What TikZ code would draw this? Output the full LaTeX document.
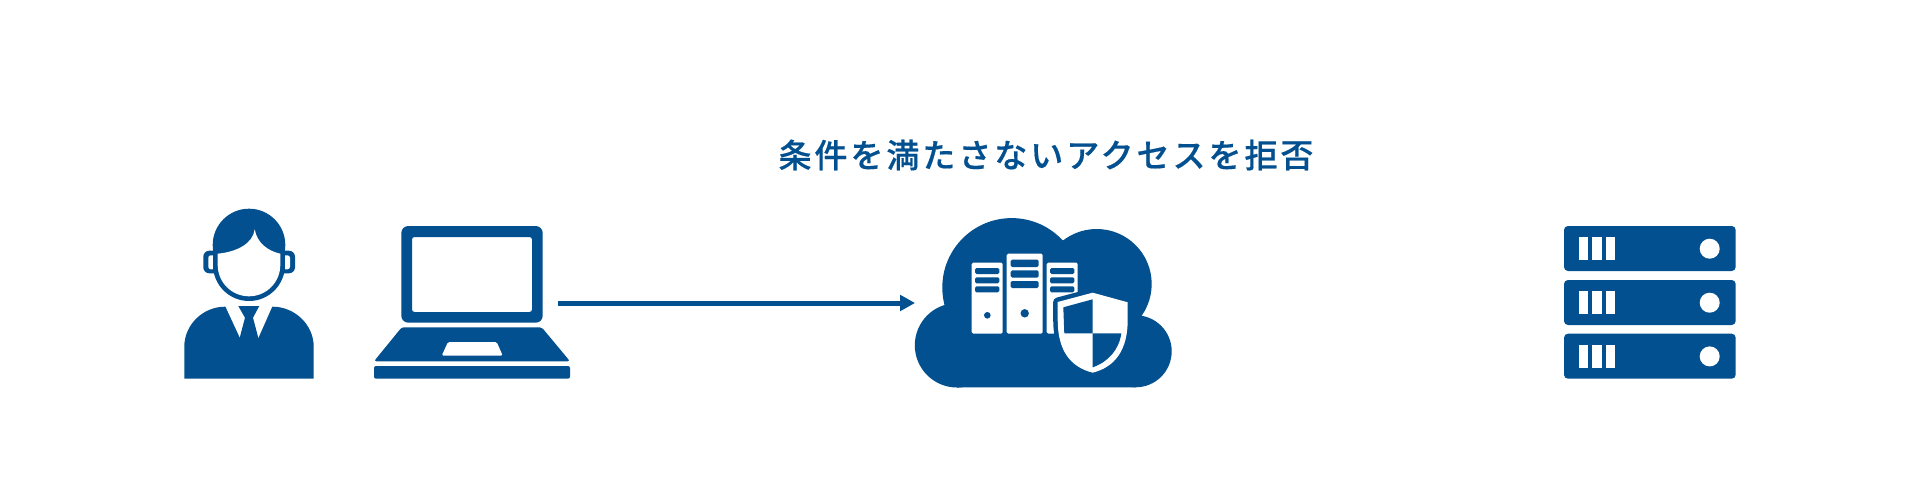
\documentclass[tikz,border=0pt]{standalone}
\usepackage{fontspec}
\usetikzlibrary{arrows.meta}
\newfontfamily\jpfont[LetterSpace=9,FakeBold=0.45]{Noto Sans CJK JP Medium}
\definecolor{navy}{HTML}{02508F}
\tikzset{
  ink/.style={fill=navy,draw=none},
  paper/.style={fill=white,draw=none},
  rack/.style={ink,rounded corners=4pt},
  tower/.style={paper,rounded corners=1.5pt},
  slot/.style={ink,rounded corners=1.5pt},
  conn/.style={draw=navy,line width=5pt,-{Triangle[length=15pt,width=15.5pt]}},
  heading/.style={text=navy,font=\jpfont\fontsize{33}{38}\selectfont,inner sep=0pt}
}
\begin{document}
\begin{tikzpicture}[x=1pt,y=-1pt]
\useasboundingbox[fill=white] (0,0) rectangle (1920,500);
\node[heading] (title) at (1046,155) {条件を満たさないアクセスを拒否};
% person
\fill[ink,rounded corners=6pt] (203.3,250.7) rectangle (225,273.3);
\fill[ink,rounded corners=6pt] (273,250.7) rectangle (295,273.3);
\fill[paper,rounded corners=2.5pt] (208.3,255.3) -- (215,255.3) -- (215,269.3) -- (208.3,269.3) -- cycle;
\fill[paper,rounded corners=2.5pt] (283,255.3) -- (290,255.3) -- (290,269.3) -- (283,269.3) -- cycle;
\fill[ink] (249,245) circle (36.3pt);
\fill[ink] (249,265) circle (36pt);
\fill[ink] (212.7,245) rectangle (285.3,265);
\fill[paper] (217.7,253.7) .. controls (236,252) and (253,244) .. (254.7,229.3)
  .. controls (257,243) and (268,251) .. (280.3,253.7) -- (280.3,265)
  arc[start angle=0,end angle=-180,radius=31.3pt] -- cycle;
\fill[ink] (184.3,378.7) -- (184.3,346.7) .. controls (184.3,324.7) and (203,306.7) .. (225,306.7)
  -- (272.7,306.7) .. controls (294.7,306.7) and (313.7,324.7) .. (313.7,346.7) -- (313.7,378.7) -- cycle;
\fill[paper] (225,305.5) -- (239.7,337.3) -- (258.3,338) -- (272.7,305.5) -- cycle;
\fill[ink] (238.3,306) -- (259.3,306) -- (253,317.7) -- (258.6,339) -- (239.4,339) -- (245,317.7) -- cycle;
% laptop
\fill[ink,even odd rule] [rounded corners=7pt] (401.3,226) rectangle (542.7,322.7)
  [rounded corners=2.5pt] (412,237) rectangle (532,312);
\fill[ink,rounded corners=2.5pt] (374,361.3) -- (401.7,327.3) -- (541.7,327.3) -- (570,361.3) -- cycle;
\fill[paper,rounded corners=1.5pt] (448,342) -- (496.7,342) -- (502.7,355.7) -- (441.7,355.7) -- cycle;
\fill[ink,rounded corners=2pt] (374,366) rectangle (570,378.7);
% connector
\coordinate (from) at (558.3,303);
\coordinate (to) at (915,303);
\draw[conn] (from) -- (to);
% cloud
\fill[ink] (957,345.3) circle (42.2pt);
\fill[ink] (1011.7,287.5) circle (69.4pt);
\fill[ink] (1096.7,284) circle (55pt);
\fill[ink] (1135.7,351.3) circle (36pt);
\fill[ink] (945,304) -- (1064,240) -- (1141.7,316.7) -- (1135.7,387.3) -- (957,387.5) -- cycle;
% towers
\fill[tower] (971.7,262.7) rectangle (1002.7,333.7);
\fill[tower] (1006.7,253.7) rectangle (1042.7,333.7);
\fill[tower] (1046.7,262.7) rectangle (1077.7,333.7);
\foreach \ya/\yb in {268/274,277.3/283.3,286.3/292.3}{
  \fill[slot] (975,\ya) rectangle (999.3,\yb);
  \fill[slot] (1050,\ya) rectangle (1074.3,\yb);
}
\foreach \ya/\yb in {259.7/267,270.3/277.7,281/288}{
  \fill[slot] (1010.7,\ya) rectangle (1038.7,\yb);
}
\fill[ink] (987.3,315.3) circle (3.3pt);
\fill[ink] (1024.7,313.3) circle (4.2pt);
% shield
\path[fill=navy,draw=navy,line width=9pt,line join=round] (1092.7,292.7) -- (1127.7,302.3) -- (1127.7,320)
  .. controls (1127.7,350) and (1115,367) .. (1092.7,372.7)
  .. controls (1070,367) and (1057.7,350) .. (1057.7,320) -- (1057.7,302) -- cycle;
\fill[paper] (1092.7,292.7) -- (1127.7,302.3) -- (1127.7,320)
  .. controls (1127.7,350) and (1115,367) .. (1092.7,372.7)
  .. controls (1070,367) and (1057.7,350) .. (1057.7,320) -- (1057.7,302) -- cycle;
\fill[ink] (1092.7,299.3) -- (1092.7,333.3) -- (1064.3,333.3) -- (1063.3,307.3) -- cycle;
\fill[ink] (1092.7,333.3) -- (1121.3,333.3) .. controls (1119,350) and (1108,362) .. (1092.7,367.3) -- cycle;
% rack servers
\foreach \t in {226,280,333.7}{
  \fill[rack] (1564,\t) rectangle (1735.7,\t+45);
  \fill[paper] (1579,\t+11.3) rectangle (1588.3,\t+34);
  \fill[paper] (1592.3,\t+11.3) rectangle (1601.7,\t+34);
  \fill[paper] (1605.7,\t+11.3) rectangle (1614.7,\t+34);
  \fill[paper] (1709.7,\t+22.7) circle (10pt);
}
\end{tikzpicture}
\end{document}
